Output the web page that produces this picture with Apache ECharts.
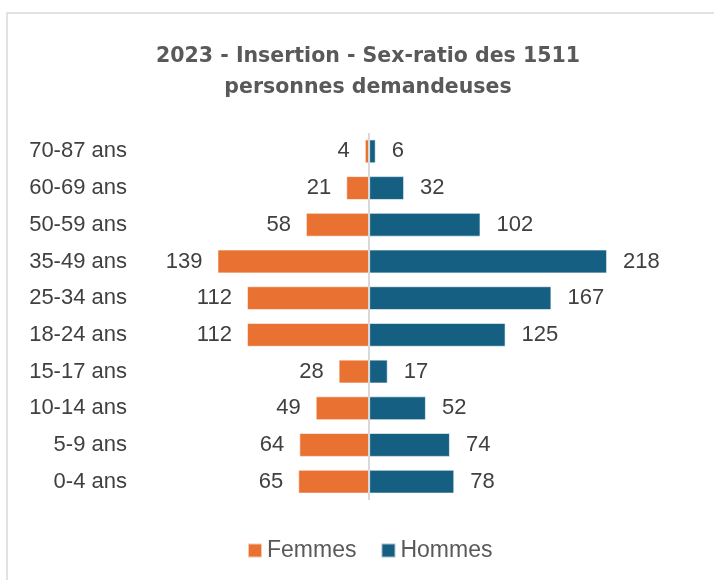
<!DOCTYPE html>
<html>
<head>
<meta charset="utf-8">
<script src="https://cdn.jsdelivr.net/npm/echarts@6/dist/echarts.min.js"></script>
<style>
  html, body { margin: 0; padding: 0; background: #fff; }
  #chart { width: 714px; height: 580px; }
</style>
</head>
<body>
<div id="chart"></div>
<script>
// tranches d'âge, du bas vers le haut
const ageGroups = ['0-4 ans', '5-9 ans', '10-14 ans', '15-17 ans', '18-24 ans',
  '25-34 ans', '35-49 ans', '50-59 ans', '60-69 ans', '70-87 ans'];
const femmes = [65, 64, 49, 28, 112, 112, 139, 58, 21, 4];
const hommes = [78, 74, 52, 17, 125, 167, 218, 102, 32, 6];

const textColor = '#404040';
const font = '"Liberation Sans", Arial, sans-serif';

const chart = echarts.init(document.getElementById('chart'));
chart.setOption({
  animation: false,
  textStyle: { fontFamily: font },
  graphic: [{
    type: 'rect',
    shape: { x: 7, y: 13, width: 800, height: 700 },
    style: { fill: 'none', stroke: '#d9d9d9', lineWidth: 1.5 },
    silent: true
  }],
  title: {
    text: '2023 - Insertion - Sex-ratio des 1511\npersonnes demandeuses',
    left: 363,
    textAlign: 'center',
    top: 36,
    textStyle: {
      color: '#595959',
      fontSize: 20.5,
      fontWeight: 'bold',
      lineHeight: 31,
      fontFamily: '"DejaVu Sans", sans-serif'
    }
  },
  legend: {
    bottom: 13,
    left: 242,
    itemWidth: 14,
    itemHeight: 14,
    itemGap: 24,
    icon: 'rect',
    textStyle: { color: '#595959', fontSize: 23, fontFamily: font },
    data: ['Femmes', 'Hommes']
  },
  grid: { left: 140, right: 72, top: 133, bottom: 80 },
  xAxis: {
    type: 'value',
    min: -210,
    max: 250,
    show: false
  },
  yAxis: {
    type: 'category',
    data: ageGroups,
    axisLine: { show: false },
    axisTick: { show: false },
    axisLabel: { color: textColor, fontSize: 22, margin: 13, fontFamily: font },
    splitLine: { show: false }
  },
  series: [
    {
      name: 'Femmes',
      type: 'bar',
      data: femmes.map(v => -v),
      barWidth: '65%',
      barGap: '-100%',
      itemStyle: { color: '#E97132', borderColor: 'rgba(255,255,255,0.6)', borderWidth: 1 },
      label: {
        show: true,
        position: 'left',
        distance: 15,
        color: textColor,
        fontSize: 22,
        fontFamily: font,
        formatter: p => Math.abs(p.value)
      },
      markLine: {
        silent: true,
        symbol: 'none',
        label: { show: false },
        lineStyle: { color: '#d9d9d9', width: 2, type: 'solid' },
        data: [{ xAxis: 0 }]
      }
    },
    {
      name: 'Hommes',
      type: 'bar',
      data: hommes,
      barWidth: '65%',
      barGap: '-100%',
      itemStyle: { color: '#156082', borderColor: 'rgba(255,255,255,0.6)', borderWidth: 1 },
      label: {
        show: true,
        position: 'right',
        distance: 16,
        color: textColor,
        fontSize: 22,
        fontFamily: font
      }
    }
  ]
});
</script>
</body>
</html>
